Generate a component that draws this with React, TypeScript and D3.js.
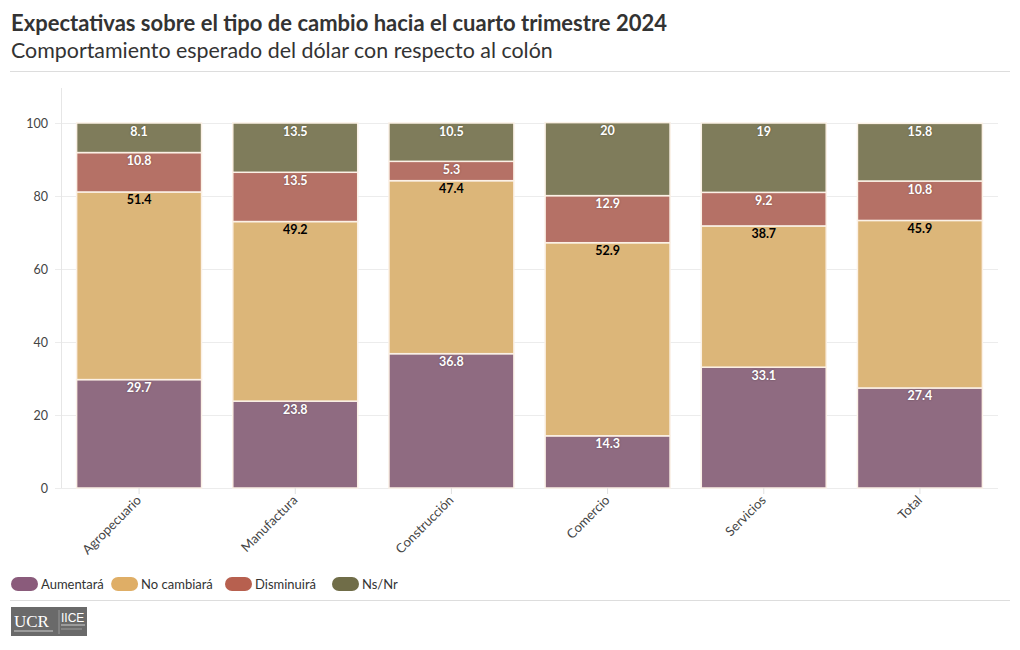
import React from "react";
import * as d3 from "d3";

const categories = ["Agropecuario", "Manufactura", "Construcción", "Comercio", "Servicios", "Total"];
const seriesNames = ["Aumentará", "No cambiará", "Disminuirá", "Ns/Nr"];
const aumentara = [29.7, 23.8, 36.8, 14.3, 33.1, 27.4];
const noCambiara = [51.4, 49.2, 47.4, 52.9, 38.7, 45.9];
const disminuira = [10.8, 13.5, 5.3, 12.9, 9.2, 10.8];
const nsnr = [8.1, 13.5, 10.5, 20, 19, 15.8];
const yTicks = [0, 20, 40, 60, 80, 100];

const barColors = ["#8f6b81", "#dcb679", "#b57166", "#7f7c5b"];
const legendColors = ["#8a5b7b", "#dfae66", "#b7604f", "#706d48"];
const labelColors = ["#ffffff", "#000000", "#ffffff", "#ffffff"];

const FONT = "Lato, 'Open Sans', sans-serif";

export default function App() {
  const W = 1020, H = 650;
  const left = 61, right = 998, top = 88, bottom = 488;
  const x = d3.scaleBand<string>().domain(categories).range([left, right]).paddingInner(0.2).paddingOuter(0.1);
  const yS = d3.scaleLinear().domain([0, 100]).range([bottom, 123]);
  const all = [aumentara, noCambiara, disminuira, nsnr];
  const rows = categories.map((c, i) => {
    const o: any = { cat: c };
    seriesNames.forEach((s, k) => (o[s] = all[k][i]));
    return o;
  });
  const stacked = d3.stack<any>().keys(seriesNames)(rows);

  const legendItems: { x: number; name: string; color: string }[] = [];
  let lx = 11;
  seriesNames.forEach((n, i) => {
    legendItems.push({ x: lx, name: n, color: legendColors[i] });
    lx += 29 + n.length * 6.9 + 9;
  });

  return (
    <svg width={W} height={H} style={{ position: "absolute", left: 0, top: 0, fontFamily: FONT }}>
      <rect width={W} height={H} fill="#fff" />
      <text x={11} y={31} fontSize={22} fontWeight={700} fill="#333">
        Expectativas sobre el tipo de cambio hacia el cuarto trimestre 2024
      </text>
      <text x={11} y={58} fontSize={21.4} fill="#333">
        Comportamiento esperado del dólar con respecto al colón
      </text>
      <line x1={10} x2={1010} y1={71.5} y2={71.5} stroke="#ddd" />

      {yTicks.map((t) => (
        <g key={t}>
          <line x1={55} x2={right} y1={yS(t) + 0.5} y2={yS(t) + 0.5} stroke="#ececec" />
          <text x={48} y={yS(t) + 4.5} fontSize={12.5} textAnchor="end" fill="#444">
            {t}
          </text>
        </g>
      ))}
      <line x1={left + 0.5} x2={left + 0.5} y1={top} y2={bottom} stroke="#e6e6e6" />

      {stacked.map((s, k) => (
        <g key={s.key}>
          {s.map((d, i) => (
            <rect
              key={i}
              x={x(categories[i])}
              width={x.bandwidth()}
              y={yS(d[1])}
              height={yS(d[0]) - yS(d[1])}
              fill={barColors[k]}
              stroke="#fbf1e6"
              strokeWidth={1.5}
            />
          ))}
        </g>
      ))}
      {stacked.map((s, k) => (
        <g key={s.key + "l"}>
          {s.map((d, i) => (
            <text
              key={i}
              x={(x(categories[i]) as number) + x.bandwidth() / 2}
              y={yS(d[1]) + 12.5}
              textAnchor="middle"
              fontSize={12.5}
              fontWeight={700}
              fill={labelColors[k]}
              style={k === 1 ? {} : { textShadow: "0 0 2px rgba(0,0,0,0.35)" }}
            >
              {all[k][i]}
            </text>
          ))}
        </g>
      ))}

      {categories.map((c) => {
        const cx = (x(c) as number) + x.bandwidth() / 2;
        return (
          <g key={c}>
            <line x1={cx} x2={cx} y1={bottom} y2={bottom + 6} stroke="#e0e0e0" />
            <text
              transform={`translate(${cx + 3},${bottom + 13}) rotate(-45)`}
              textAnchor="end"
              fontSize={13}
              fill="#444"
            >
              {c}
            </text>
          </g>
        );
      })}

      {legendItems.map((l) => (
        <g key={l.name}>
          <rect x={l.x} y={577} width={27} height={14} rx={7} fill={l.color} />
          <text x={l.x + 30} y={588.5} fontSize={13} fill="#333">
            {l.name}
          </text>
        </g>
      ))}
      <line x1={10} x2={1010} y1={600.5} y2={600.5} stroke="#ddd" />

      <rect x={11} y={607} width={76} height={29} fill="#6a6a6a" />
      <text x={14} y={627} fontSize={17} fill="#fff" fontFamily="'Liberation Serif', serif">UCR</text>
      <line x1={14} x2={53} y1={631} y2={631} stroke="#ccc" strokeWidth={1} />
      <line x1={59} x2={59} y1={610} y2={634} stroke="#999" />
      <text x={61} y={622} fontSize={12} fill="#fff" fontFamily="'Liberation Sans', sans-serif">IICE</text>
      <line x1={61} x2={85} y1={625} y2={625} stroke="#ccc" />
      <line x1={61} x2={82} y1={629} y2={629} stroke="#aaa" strokeWidth={0.8} />
    </svg>
  );
}
